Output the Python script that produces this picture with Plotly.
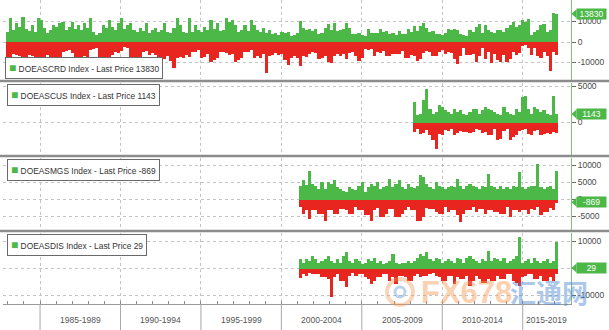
import plotly.graph_objects as go
import pandas as pd

GREEN = '#4cb848'
RED = '#e8251f'
END_DATE = '2017-02-03'
STEP = '70D'   # each bar pair = envelope of ~10 weekly changes

# ---- DOEASCRD (crude stocks weekly change, max build / max draw per column)
crude_up = [5000, 11600, 6000, 9100, 7500, 12300, 6500, 5500, 8300, 5000,
            11500, 10700, 6700, 4200, 5800, 8300, 7500, 9100, 9900, 6000,
            7500, 9900, 6500, 8300, 6000, 9100, 7000, 11500, 5000, 3400,
            4500, 8300, 7000, 10700, 7500, 6000, 9100, 11500, 6500, 8300,
            9100, 6000, 5000, 6700, 5500, 9100, 4500, 5800, 6700, 5000,
            6000, 9100, 5000, 4500, 7000, 11500, 8300, 5000, 4200, 11500,
            5000, 8300, 6000, 5000, 7500, 6000, 10700, 6500, 9100, 5500,
            6000, 11500, 9900, 10700, 8300, 5000, 6000, 8300, 5500, 10700,
            8300, 6000, 5000, 6700, 4500, 5800, 4000, 4200, 3500, 5000,
            4200, 5000, 3000, 3500, 4500, 10300, 7000, 6000, 6500, 5500,
            6200, 4000, 4600, 7000, 8600, 6000, 9300, 5500, 6000, 6200,
            9500, 7000, 3700, 4000, 4600, 3500, 3000, 6200, 4500, 4600,
            4500, 6200, 5000, 5400, 4000, 4600, 3500, 5400, 4000, 3700,
            6200, 5000, 7800, 5500, 7800, 9300, 7000, 5000, 5400, 4000,
            4100, 3500, 4500, 6500, 6000, 6500, 5700, 4000, 3300, 3000,
            5700, 5000, 7300, 9000, 4500, 8100, 6000, 4900, 4500, 6000,
            6000, 4900, 7000, 8100, 9800, 7500, 8100, 10600, 10000, 11000,
            3300, 4900, 6000, 8100, 9000, 4900, 6000, 14300, 13830]
crude_dn = [-7500, -8500, -6000, -6500, -7000, -8800, -7500, -6200, -6800, -8500,
            -7900, -8500, -7800, -6500, -8600, -8000, -7200, -8800, -5000, -4500,
            -4000, -5500, -8500, -7800, -8800, -7000, -8200, -4000, -3500, -3000,
            -8000, -8800, -7500, -8500, -6500, -4700, -5500, -4500, -2500, -3000,
            -8000, -8800, -8500, -8000, -5000, -4500, -6300, -5500, -6300, -7800,
            -8800, -8500, -7000, -9500, -12800, -8000, -7200, -7900, -6500, -7500,
            -4700, -5000, -4000, -7900, -7500, -6000, -9600, -9000, -8000, -4700,
            -4700, -5500, -6300, -6000, -9600, -9000, -8000, -4700, -5000, -4000,
            -7900, -7000, -8000, -6000, -15000, -7000, -6300, -5500, -6300, -6000,
            -8800, -11000, -7700, -7000, -8000, -11700, -6800, -7500, -6000, -5000,
            -5200, -8500, -8000, -7000, -9800, -10100, -6800, -6000, -7000, -6000,
            -8500, -5200, -5000, -7000, -9300, -8000, -3600, -4000, -3600, -6800,
            -5000, -5200, -4500, -6800, -7000, -6000, -6000, -6000, -4500, -7600,
            -7600, -6500, -7000, -9300, -8500, -5200, -4500, -5000, -6800, -6800,
            -4900, -4000, -5700, -5000, -5500, -8100, -10600, -7000, -3000, -6500,
            -6500, -6000, -9800, -7000, -3000, -8100, -5000, -10400, -6000, -9000,
            -9800, -6500, -9800, -8100, -5000, -6500, -5500, -2000, -1500, -3000,
            -6500, -3000, -7000, -7800, -5000, -7000, -14100, -5000, -6300]

# ---- DOEASCUS (Cushing)
cush_up = [2900, 1000, 1200, 3100, 4750, 1900, 1200, 1500, 2400, 2200,
           1700, 1500, 1200, 1900, 1500, 1700, 1200, 1000, 1500, 1900,
           1900, 1200, 1700, 2200, 1900, 1700, 1500, 1200, 1000, 2200,
           1500, 1200, 1000, 1900, 1500, 3600, 3800, 1900, 1200, 2200,
           1900, 1500, 1700, 1200, 1000, 3800, 1143]
cush_dn = [-1400, -900, -1600, -1500, -1000, -1800, -2500, -3700, -1600, -1700,
           -1000, -1200, -900, -1700, -1500, -1200, -1400, -1300, -1500, -1400,
           -900, -1000, -1500, -1400, -1800, -1700, -900, -2500, -2300, -1200,
           -900, -2500, -2000, -1800, -1200, -1100, -900, -1600, -1800, -1200,
           -1100, -1800, -1600, -1500, -1600, -1400, -1500]

# ---- DOEASMGS (gasoline)
gas_up = [4200, 5700, 4500, 8600, 4700, 4200, 3200, 5200, 3200, 5200,
          4700, 5700, 3700, 3200, 2700, 2200, 3700, 3200, 3000, 4200,
          5200, 2200, 3700, 4700, 4200, 5200, 3200, 3700, 4000, 6200,
          3700, 4700, 5700, 3700, 3200, 4700, 3700, 3500, 4200, 7150,
          6600, 4700, 3700, 3200, 5200, 4200, 3700, 3200, 3700, 4200,
          3700, 6200, 4200, 3200, 4200, 4700, 4000, 3700, 3200, 4200,
          3700, 7600, 4200, 3700, 3200, 4200, 3200, 3700, 3200, 4200,
          3700, 8100, 3700, 3200, 3700, 4200, 4000, 10600, 3700, 3200,
          3700, 4200, 3200, 8600]
gas_dn = [-2200, -4100, -3000, -5600, -3100, -3100, -4100, -4100, -6100, -3100,
          -3100, -4100, -4100, -2600, -2600, -3100, -4100, -4100, -2000, -3100,
          -3100, -4600, -4600, -6100, -3100, -2500, -5100, -5100, -4100, -2600,
          -2600, -5100, -5100, -4100, -3100, -2000, -3100, -3100, -6100, -6100,
          -5100, -2500, -2600, -2600, -3600, -4100, -4100, -2000, -3600, -3100,
          -3100, -4600, -6600, -4100, -3100, -3100, -2000, -3600, -2600, -2600,
          -4100, -3100, -3100, -3600, -3600, -4100, -4100, -2000, -5100, -3100,
          -3100, -3600, -3100, -3100, -4100, -2600, -3100, -2000, -4600, -3600,
          -3600, -2500, -3100, -869]

# ---- DOEASDIS (distillates)
dist_up = [3700, 2200, 3400, 2800, 4700, 3400, 2200, 2800, 3400, 4700,
           2800, 2200, 3400, 2200, 4700, 6000, 2800, 2200, 3400, 2800,
           1600, 2200, 3400, 2800, 4000, 2200, 2800, 1600, 2200, 2800,
           5300, 2200, 1600, 2200, 2200, 2800, 2200, 2800, 4000, 5300,
           4700, 6000, 3400, 2800, 4000, 3400, 2200, 2800, 3400, 2800,
           2200, 4000, 3400, 2200, 4000, 4700, 3400, 2800, 2200, 3400,
           2800, 6600, 2800, 4000, 3400, 2800, 4000, 2200, 2800, 3400,
           4700, 11600, 2200, 2800, 3400, 2200, 4000, 2800, 2200, 2800,
           3400, 2200, 2800, 9700]
dist_dn = [-3700, -2100, -2700, -1500, -2100, -2100, -2100, -3300, -3300, -4000,
           -10600, -3300, -2100, -4500, -4500, -7000, -2700, -1500, -2700, -2100,
           -2100, -3300, -3900, -5700, -4500, -3300, -3300, -2100, -2100, -4500,
           -3300, -5700, -2700, -2700, -3300, -4500, -4500, -2700, -2100, -3300,
           -2700, -2700, -2100, -1500, -2700, -3300, -4500, -4500, -2700, -2700,
           -5700, -3300, -3900, -3900, -2700, -6300, -4500, -2700, -3900, -5200,
           -5200, -3900, -4500, -4500, -2700, -3900, -3900, -2100, -2100, -4500,
           -5200, -6300, -3300, -2700, -2100, -2100, -3900, -3900, -2700, -4500,
           -4500, -3300, -4500, -2100]

period_labels = ['1985-1989', '1990-1994', '1995-1999', '2000-2004',
                 '2005-2009', '2010-2014', '2015-2019']
period_starts = ['1985-01-01', '1990-01-01', '1995-01-01', '2000-01-01',
                 '2005-01-01', '2010-01-01', '2015-01-01']
period_mids = ['1987-07-02', '1992-07-02', '1997-07-02', '2002-07-02',
               '2007-07-02', '2012-07-02', '2016-07-01']
year_ticks = [f'{y}-01-01' for y in range(1983, 2018)]
X_RANGE = ['1982-09-13', '2018-01-01']

W, H = 609, 330
ML, MR, MT, MB = 3, 38, 0, 26
PW, PH = W - ML - MR, H - MT - MB


def fx(px):
    return (px - ML) / PW


def fy(py):
    return (PH - (py - MT)) / PH


FONT = 'Liberation Sans'
panels = [
    dict(code='DOEASCRD', last='13830', lastval=13830, up=crude_up, dn=crude_dn,
         top=0, bot=79.5, rng=[-18290, 20490], ticks=[-10000, 0, 10000],
         leg=(5, 60, 162, 79), anchor='bottom'),
    dict(code='DOEASCUS', last='1143', lastval=1143, up=cush_up, dn=cush_dn,
         top=82.5, bot=154.5, rng=[-4577, 5563], ticks=[0, 5000],
         leg=(7, 84, 158, 103), anchor='top'),
    dict(code='DOEASMGS', last='-869', lastval=-869, up=gas_up, dn=gas_dn,
         top=157.5, bot=229.5, rng=[-8882, 12294], ticks=[-5000, 0, 5000, 10000],
         leg=(7, 159, 160, 178), anchor='top'),
    dict(code='DOEASDIS', last='29', lastval=29, up=dist_up, dn=dist_dn,
         top=232.5, bot=304, rng=[-13333, 13148], ticks=[-10000, 0, 10000],
         leg=(7, 234, 148, 253), anchor='top'),
]

BAR_W = 72 * 86400000
fig = go.Figure()
layout = {}
shapes = []
annotations = []

for k, p in enumerate(panels, start=1):
    xa = 'x' if k == 1 else f'x{k}'
    ya = 'y' if k == 1 else f'y{k}'
    dates = pd.date_range(end=END_DATE, periods=len(p['up']), freq=STEP)
    fig.add_trace(go.Bar(x=dates, y=p['up'], width=BAR_W, xaxis=xa, yaxis=ya,
                         marker=dict(color=GREEN, line=dict(width=0)),
                         hoverinfo='skip', showlegend=False))
    fig.add_trace(go.Bar(x=dates, y=p['dn'], width=BAR_W, xaxis=xa, yaxis=ya,
                         marker=dict(color=RED, line=dict(width=0)),
                         hoverinfo='skip', showlegend=False))
    xkey = 'xaxis' if k == 1 else f'xaxis{k}'
    ykey = 'yaxis' if k == 1 else f'yaxis{k}'
    xd = dict(type='date', range=X_RANGE, domain=[0, 1], anchor=ya,
              tickmode='array', tickvals=period_starts, showticklabels=False,
              ticks='', showgrid=True, gridcolor='#c4c4c4', griddash='dot',
              gridwidth=1, zeroline=False, showline=False, fixedrange=True)
    if k == 4:
        xd.update(showline=True, linecolor='#9a9a9a', linewidth=1,
                  minor=dict(tickmode='array', tickvals=year_ticks, ticks='inside',
                             ticklen=3, tickcolor='#8a8a8a', showgrid=False))
    layout[xkey] = xd
    layout[ykey] = dict(domain=[fy(p['bot']), fy(p['top'])], range=p['rng'],
                        side='right', anchor=xa, tickmode='array',
                        tickvals=p['ticks'], ticktext=[str(t) for t in p['ticks']],
                        ticks='outside', ticklen=4, tickcolor='#666',
                        tickfont=dict(size=8.5, color='#4a4a4a', family=FONT),
                        showgrid=True, gridcolor='#c4c4c4', griddash='dot',
                        zeroline=False, showline=True, linecolor='#7cc576',
                        linewidth=1, fixedrange=True)
    # legend-like box
    x0, y0, x1, y1 = p['leg']
    annotations.append(dict(
        xref='paper', yref='paper', x=fx(x0), xanchor='left',
        y=fy(y1) if p['anchor'] == 'bottom' else fy(y0), yanchor=p['anchor'],
        text=f"<span style='color:{GREEN};font-size:12px'>■</span> {p['code']} Index - Last Price {p['last']}",
        showarrow=False, align='left', bgcolor='white', bordercolor='#6a6a6a',
        borderwidth=1, borderpad=3,
        font=dict(size=8.4, color='#333', family=FONT)))
    # last price tag
    pxper = (p['bot'] - p['top']) / (p['rng'][1] - p['rng'][0])
    half = 4.5 / pxper
    v = p['lastval']
    shapes.append(dict(type='path', xref='paper', yref=ya, layer='above',
                       path=f"M {fx(571.5)},{v} L {fx(576.5)},{v + half} L {fx(576.5)},{v - half} Z",
                       fillcolor=GREEN, line=dict(width=0)))
    annotations.append(dict(xref='paper', yref=ya, x=fx(576), xanchor='left', y=v,
                            yanchor='middle', text=p['last'], showarrow=False,
                            bgcolor=GREEN, borderpad=1, width=27, height=8,
                            align='center', font=dict(size=8.5, color='white', family=FONT)))

# panel separators
for py in (81, 156, 231):
    shapes.append(dict(type='line', xref='paper', yref='paper', x0=fx(0), x1=fx(W),
                       y0=fy(py), y1=fy(py), line=dict(color='#8c8c8c', width=2.5)))
# period separators on the date axis
for d in period_starts:
    shapes.append(dict(type='line', xref='x4', yref='paper', x0=d, x1=d,
                       y0=fy(304), y1=fy(H), line=dict(color='#a8a8a8', width=1)))
for lab, mid in zip(period_labels, period_mids):
    annotations.append(dict(xref='x4', yref='paper', x=mid, y=fy(320), text=lab,
                            showarrow=False, xanchor='center', yanchor='middle',
                            font=dict(size=8.5, color='#555', family=FONT)))

# watermark
shapes.append(dict(type='circle', xref='paper', yref='paper', layer='above',
                   x0=fx(387), x1=fx(413), y0=fy(305), y1=fy(279),
                   line=dict(color='rgba(245,150,80,0.40)', width=4)))
shapes.append(dict(type='circle', xref='paper', yref='paper', layer='above',
                   x0=fx(395), x1=fx(405), y0=fy(297), y1=fy(287),
                   line=dict(color='rgba(90,140,210,0.40)', width=3)))
annotations.append(dict(xref='paper', yref='paper', x=fx(466), y=fy(292), text='<b>FX678</b>',
                        showarrow=False, xanchor='center', yanchor='middle', opacity=0.45,
                        font=dict(size=31, color='#f59a55', family=FONT)))
annotations.append(dict(xref='paper', yref='paper', x=fx(549), y=fy(291), text='<b>汇通网</b>',
                        showarrow=False, xanchor='center', yanchor='middle', opacity=0.45,
                        font=dict(size=26, color='#4a86d0', family='Noto Sans CJK SC')))

fig.update_layout(width=W, height=H, margin=dict(l=ML, r=MR, t=MT, b=MB),
                  paper_bgcolor='white', plot_bgcolor='white', barmode='relative',
                  bargap=0, showlegend=False, shapes=shapes, annotations=annotations,
                  font=dict(family=FONT), **layout)
fig.write_html('out.html', config={'displayModeBar': False})
